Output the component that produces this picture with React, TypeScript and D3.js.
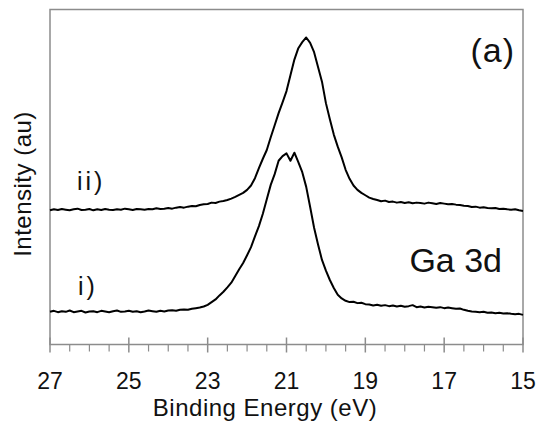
import React from "react";
import * as d3 from "d3";

const energyStart = 27;
const energyStep = 0.1;

// Curve ii) (upper)
const seriesII = [
  40.2, 40.5, 40.3, 40.6, 40.4, 40.2, 40.5, 40.7, 40.3, 40.4,
  40.6, 40.2, 40.5, 40.3, 40.6, 40.4, 40.3, 40.5, 40.4, 40.7,
  40.5, 40.3, 40.6, 40.5, 40.4, 40.6, 40.5, 40.8, 40.6, 40.7,
  40.9, 40.7, 41.0, 41.2, 41.0, 41.3, 41.5, 41.4, 41.8, 42.0,
  42.1, 42.5, 42.4, 42.8, 43.0, 43.3, 43.7, 44.2, 44.8, 45.4,
  46.3, 47.6, 49.8, 52.8, 55.6, 58.2, 62.0, 65.6, 69.2, 72.4,
  75.8, 80.5, 85.2, 88.6, 90.4, 91.8, 90.2, 87.4, 83.0, 78.6,
  72.2, 67.4, 62.8, 59.2, 56.0, 52.3, 49.6, 47.6, 46.3, 45.4,
  44.7, 44.0, 43.6, 43.3, 42.9, 43.1, 42.7, 42.8, 42.5, 42.7,
  42.4, 42.6, 42.3, 42.5, 42.4, 42.2, 42.5, 42.3, 42.1, 42.4,
  42.2, 42.0, 42.1, 41.9, 41.8, 41.6, 41.5, 41.2, 41.3, 41.0,
  41.1, 40.9, 40.8, 40.9, 40.6, 40.7, 40.5, 40.4, 40.5, 40.2,
  40.0,
];

// Curve i) (lower)
const seriesI = [
  9.9, 10.2, 9.8, 10.1, 9.9, 10.3, 9.8, 10.0, 10.2, 9.7,
  10.0, 10.1, 9.8, 10.2, 10.0, 9.8, 10.1, 10.3, 9.9, 10.0,
  10.2, 9.9, 10.1, 9.8, 10.0, 10.3, 10.1, 9.9, 10.2, 10.0,
  10.3, 10.4, 10.2, 10.5, 10.6, 10.5, 10.8, 11.0, 11.2, 11.5,
  12.0, 12.8, 13.6, 14.8, 15.9, 17.2, 18.6, 20.6, 22.6, 24.5,
  26.8, 29.2, 32.4, 35.5, 39.2, 43.5, 47.8, 51.0, 55.0, 56.4,
  57.2, 55.0, 57.4, 54.6, 51.6, 47.2, 41.2, 35.0, 30.0, 25.4,
  22.2, 19.4, 17.0, 15.0, 13.9, 13.2, 12.8, 12.9, 12.5, 12.6,
  12.2, 12.1, 11.8, 12.0, 11.7, 11.9, 11.6, 11.8, 11.5, 11.7,
  11.4, 11.6, 11.9, 11.3, 11.5, 11.2, 11.4, 11.3, 11.1, 11.3,
  11.0, 11.2, 11.0, 10.8, 10.9, 10.5, 10.2, 10.0, 9.9, 9.8,
  9.9, 9.6, 9.7, 9.5, 9.6, 9.4, 9.5, 9.3, 9.2, 9.3,
  9.0,
];

const majorTicks = [27, 25, 23, 21, 19, 17, 15];
const minorTicks = d3.range(0, 25).map((i) => 27 - i * 0.5).filter((v) => !majorTicks.includes(v));

const xLabel = "Binding Energy (eV)";
const yLabel = "Intensity (au)";

export default function App() {
  const left = 50, right = 523, top = 9.5, bottom = 344.5;
  const x = d3.scaleLinear().domain([27, 15]).range([left, right]);
  const y = d3.scaleLinear().domain([0, 100]).range([345, 10]);
  const energies = seriesI.map((_, i) => +(energyStart - i * energyStep).toFixed(1));
  const line = d3
    .line<number>()
    .x((_, i) => x(energies[i]))
    .y((d) => y(d));
  const axisColor = "#8c8c8c";
  const font = "'Liberation Sans', Arial, Helvetica, sans-serif";
  return (
    <svg
      width={537}
      height={424}
      style={{ position: "absolute", left: 0, top: 0, background: "#fff" }}
      fontFamily={font}
    >
      <rect x={0} y={0} width={537} height={424} fill="#fff" />
      <rect x={left} y={top} width={right - left} height={bottom - top} fill="none" stroke={axisColor} strokeWidth={1.5} />
      {majorTicks.map((t) => (
        <g key={"M" + t}>
          <line x1={x(t)} x2={x(t)} y1={bottom - 7} y2={bottom + 8} stroke={axisColor} strokeWidth={1.5} />
          <text x={x(t)} y={389} textAnchor="middle" fontSize={23} fill="#111">
            {t}
          </text>
        </g>
      ))}
      {minorTicks.map((t) => (
        <line key={"m" + t} x1={x(t)} x2={x(t)} y1={bottom} y2={bottom + 7} stroke={axisColor} strokeWidth={1.2} />
      ))}
      <path d={line(seriesII) || ""} fill="none" stroke="#000" strokeWidth={2} strokeLinejoin="round" />
      <path d={line(seriesI) || ""} fill="none" stroke="#000" strokeWidth={2} strokeLinejoin="round" />
      <text x={265} y={416} textAnchor="middle" fontSize={24} fill="#111" letterSpacing={0.5}>
        {xLabel}
      </text>
      <text
        transform={`translate(31,184) rotate(-90)`}
        textAnchor="middle"
        fontSize={24}
        fill="#111"
        letterSpacing={0.5}
      >
        {yLabel}
      </text>
      <text x={77} y={190} fontSize={25} fill="#111" letterSpacing={3}>
        ii)
      </text>
      <text x={78} y={295} fontSize={25} fill="#111" letterSpacing={3}>
        i)
      </text>
      <text x={515} y={62} textAnchor="end" fontSize={34} fill="#111" letterSpacing={1}>
        (a)
      </text>
      <text x={502} y={272} textAnchor="end" fontSize={34} fill="#111">
        Ga 3d
      </text>
    </svg>
  );
}
